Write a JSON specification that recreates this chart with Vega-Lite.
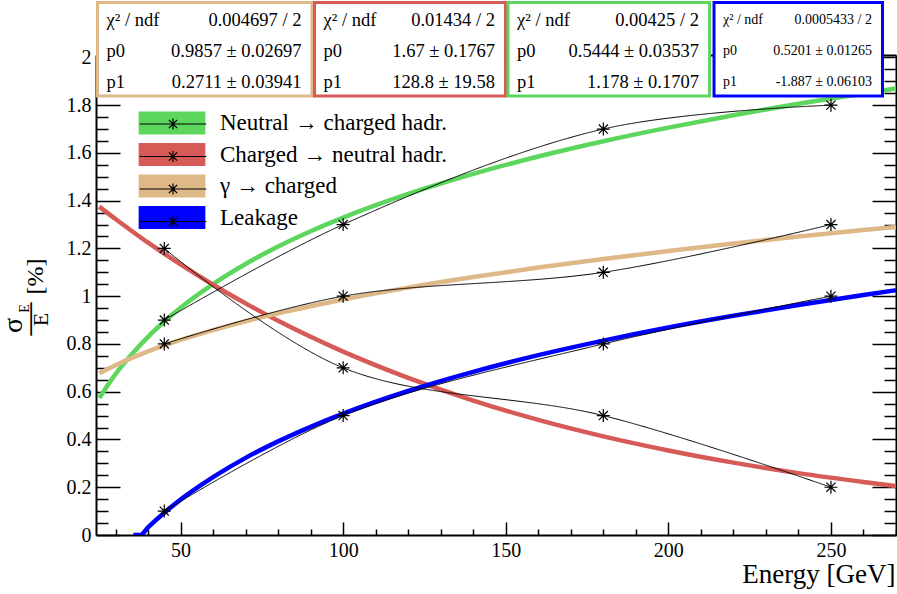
{
  "$schema": "https://vega.github.io/schema/vega-lite/v6.json",
  "width": 800,
  "height": 480,
  "autosize": "none",
  "padding": {"left": 96, "top": 55, "right": 1, "bottom": 59},
  "background": "white",
  "config": {
    "font": "Liberation Serif",
    "view": {"stroke": null},
    "axis": {"labelFont": "Liberation Serif", "titleFont": "Liberation Serif", "labelColor": "black", "titleColor": "black", "tickColor": "black", "domainColor": "black", "grid": false, "titleFontWeight": "normal", "labelFlush": false, "labelOverlap": false, "tickWidth": 1.5, "domainWidth": 2},
    "legend": {"labelFont": "Liberation Serif", "labelColor": "black"},
    "text": {"font": "Liberation Serif"}
  },
  "datasets": {
    "fits": [
      {"series": "Neutral → charged hadr.", "E": 25, "value": 0.574},
      {"series": "Neutral → charged hadr.", "E": 30, "value": 0.674},
      {"series": "Neutral → charged hadr.", "E": 35, "value": 0.757},
      {"series": "Neutral → charged hadr.", "E": 40, "value": 0.830},
      {"series": "Neutral → charged hadr.", "E": 45, "value": 0.894},
      {"series": "Neutral → charged hadr.", "E": 50, "value": 0.952},
      {"series": "Neutral → charged hadr.", "E": 60, "value": 1.051},
      {"series": "Neutral → charged hadr.", "E": 70, "value": 1.135},
      {"series": "Neutral → charged hadr.", "E": 80, "value": 1.208},
      {"series": "Neutral → charged hadr.", "E": 90, "value": 1.272},
      {"series": "Neutral → charged hadr.", "E": 100, "value": 1.329},
      {"series": "Neutral → charged hadr.", "E": 120, "value": 1.428},
      {"series": "Neutral → charged hadr.", "E": 140, "value": 1.512},
      {"series": "Neutral → charged hadr.", "E": 160, "value": 1.585},
      {"series": "Neutral → charged hadr.", "E": 180, "value": 1.649},
      {"series": "Neutral → charged hadr.", "E": 200, "value": 1.706},
      {"series": "Neutral → charged hadr.", "E": 220, "value": 1.758},
      {"series": "Neutral → charged hadr.", "E": 240, "value": 1.806},
      {"series": "Neutral → charged hadr.", "E": 260, "value": 1.849},
      {"series": "Neutral → charged hadr.", "E": 270, "value": 1.870},
      {"series": "Charged → neutral hadr.", "E": 25, "value": 1.375},
      {"series": "Charged → neutral hadr.", "E": 30, "value": 1.323},
      {"series": "Charged → neutral hadr.", "E": 35, "value": 1.273},
      {"series": "Charged → neutral hadr.", "E": 40, "value": 1.224},
      {"series": "Charged → neutral hadr.", "E": 45, "value": 1.178},
      {"series": "Charged → neutral hadr.", "E": 50, "value": 1.133},
      {"series": "Charged → neutral hadr.", "E": 60, "value": 1.048},
      {"series": "Charged → neutral hadr.", "E": 70, "value": 0.970},
      {"series": "Charged → neutral hadr.", "E": 80, "value": 0.897},
      {"series": "Charged → neutral hadr.", "E": 90, "value": 0.830},
      {"series": "Charged → neutral hadr.", "E": 100, "value": 0.768},
      {"series": "Charged → neutral hadr.", "E": 120, "value": 0.658},
      {"series": "Charged → neutral hadr.", "E": 140, "value": 0.563},
      {"series": "Charged → neutral hadr.", "E": 160, "value": 0.482},
      {"series": "Charged → neutral hadr.", "E": 180, "value": 0.413},
      {"series": "Charged → neutral hadr.", "E": 200, "value": 0.354},
      {"series": "Charged → neutral hadr.", "E": 220, "value": 0.303},
      {"series": "Charged → neutral hadr.", "E": 240, "value": 0.259},
      {"series": "Charged → neutral hadr.", "E": 260, "value": 0.222},
      {"series": "Charged → neutral hadr.", "E": 270, "value": 0.205},
      {"series": "γ → charged", "E": 25, "value": 0.677},
      {"series": "γ → charged", "E": 30, "value": 0.711},
      {"series": "γ → charged", "E": 35, "value": 0.742},
      {"series": "γ → charged", "E": 40, "value": 0.769},
      {"series": "γ → charged", "E": 45, "value": 0.794},
      {"series": "γ → charged", "E": 50, "value": 0.817},
      {"series": "γ → charged", "E": 60, "value": 0.858},
      {"series": "γ → charged", "E": 70, "value": 0.895},
      {"series": "γ → charged", "E": 80, "value": 0.928},
      {"series": "γ → charged", "E": 90, "value": 0.958},
      {"series": "γ → charged", "E": 100, "value": 0.986},
      {"series": "γ → charged", "E": 120, "value": 1.036},
      {"series": "γ → charged", "E": 140, "value": 1.080},
      {"series": "γ → charged", "E": 160, "value": 1.120},
      {"series": "γ → charged", "E": 180, "value": 1.156},
      {"series": "γ → charged", "E": 200, "value": 1.189},
      {"series": "γ → charged", "E": 220, "value": 1.221},
      {"series": "γ → charged", "E": 240, "value": 1.250},
      {"series": "γ → charged", "E": 260, "value": 1.277},
      {"series": "γ → charged", "E": 270, "value": 1.290},
      {"series": "Leakage", "E": 35.5, "value": 0},
      {"series": "Leakage", "E": 37.6, "value": 0},
      {"series": "Leakage", "E": 40, "value": 0.032},
      {"series": "Leakage", "E": 45, "value": 0.093},
      {"series": "Leakage", "E": 50, "value": 0.148},
      {"series": "Leakage", "E": 60, "value": 0.242},
      {"series": "Leakage", "E": 70, "value": 0.323},
      {"series": "Leakage", "E": 80, "value": 0.392},
      {"series": "Leakage", "E": 90, "value": 0.453},
      {"series": "Leakage", "E": 100, "value": 0.508},
      {"series": "Leakage", "E": 120, "value": 0.603},
      {"series": "Leakage", "E": 140, "value": 0.683},
      {"series": "Leakage", "E": 160, "value": 0.753},
      {"series": "Leakage", "E": 180, "value": 0.814},
      {"series": "Leakage", "E": 200, "value": 0.869},
      {"series": "Leakage", "E": 220, "value": 0.918},
      {"series": "Leakage", "E": 240, "value": 0.963},
      {"series": "Leakage", "E": 260, "value": 1.005},
      {"series": "Leakage", "E": 270, "value": 1.025}
    ],
    "points": [
      {"series": "Neutral → charged hadr.", "E": 45, "value": 0.9},
      {"series": "Neutral → charged hadr.", "E": 100, "value": 1.3},
      {"series": "Neutral → charged hadr.", "E": 180, "value": 1.7},
      {"series": "Neutral → charged hadr.", "E": 250, "value": 1.8},
      {"series": "Charged → neutral hadr.", "E": 45, "value": 1.2},
      {"series": "Charged → neutral hadr.", "E": 100, "value": 0.7},
      {"series": "Charged → neutral hadr.", "E": 180, "value": 0.5},
      {"series": "Charged → neutral hadr.", "E": 250, "value": 0.2},
      {"series": "γ → charged", "E": 45, "value": 0.8},
      {"series": "γ → charged", "E": 100, "value": 1.0},
      {"series": "γ → charged", "E": 180, "value": 1.1},
      {"series": "γ → charged", "E": 250, "value": 1.3},
      {"series": "Leakage", "E": 45, "value": 0.1},
      {"series": "Leakage", "E": 100, "value": 0.5},
      {"series": "Leakage", "E": 180, "value": 0.8},
      {"series": "Leakage", "E": 250, "value": 1.0}
    ],
    "boxes": [
      {"series": "γ → charged", "x0": 24.46, "x1": 90.42, "y0": 1.838, "y1": 2.23},
      {"series": "Charged → neutral hadr.", "x0": 91.19, "x1": 149.92, "y0": 1.838, "y1": 2.23},
      {"series": "Neutral → charged hadr.", "x0": 150.69, "x1": 212.65, "y0": 1.838, "y1": 2.23},
      {"series": "Leakage", "x0": 214.04, "x1": 265.85, "y0": 1.838, "y1": 2.23}
    ],
    "stats": [
      {"series": "γ → charged", "x0": 24.46, "x1": 90.42, "y": 2.1586, "label": "χ² / ndf", "text": "0.004697 / 2"},
      {"series": "γ → charged", "x0": 24.46, "x1": 90.42, "y": 2.0268, "label": "p0", "text": "0.9857 ± 0.02697"},
      {"series": "γ → charged", "x0": 24.46, "x1": 90.42, "y": 1.8969, "label": "p1", "text": "0.2711 ± 0.03941"},
      {"series": "Charged → neutral hadr.", "x0": 91.19, "x1": 149.92, "y": 2.1586, "label": "χ² / ndf", "text": "0.01434 / 2"},
      {"series": "Charged → neutral hadr.", "x0": 91.19, "x1": 149.92, "y": 2.0268, "label": "p0", "text": "1.67 ± 0.1767"},
      {"series": "Charged → neutral hadr.", "x0": 91.19, "x1": 149.92, "y": 1.8969, "label": "p1", "text": "128.8 ± 19.58"},
      {"series": "Neutral → charged hadr.", "x0": 150.69, "x1": 212.65, "y": 2.1586, "label": "χ² / ndf", "text": "0.00425 / 2"},
      {"series": "Neutral → charged hadr.", "x0": 150.69, "x1": 212.65, "y": 2.0268, "label": "p0", "text": "0.5444 ± 0.03537"},
      {"series": "Neutral → charged hadr.", "x0": 150.69, "x1": 212.65, "y": 1.8969, "label": "p1", "text": "1.178 ± 0.1707"},
      {"series": "Leakage", "x0": 214.04, "x1": 265.85, "y": 2.1586, "label": "χ² / ndf", "text": "0.0005433 / 2"},
      {"series": "Leakage", "x0": 214.04, "x1": 265.85, "y": 2.0268, "label": "p0", "text": "0.5201 ± 0.01265"},
      {"series": "Leakage", "x0": 214.04, "x1": 265.85, "y": 1.8969, "label": "p1", "text": "-1.887 ± 0.06103"}
    ]
  },
  "layer": [
    {
      "data": {"name": "fits"},
      "mark": {"type": "line", "strokeWidth": 4.5, "interpolate": "monotone", "clip": true},
      "encoding": {
        "x": {"field": "E", "type": "quantitative", "scale": {"domain": [24, 270], "nice": false, "zero": false},
          "axis": {"orient": "bottom", "values": [50, 100, 150, 200, 250], "tickSize": -13, "labelFontSize": 20, "labelPadding": 18, "labelBaseline": "top",
            "title": "Energy [GeV]", "titleFontSize": 27, "titleX": 799, "titleY": 47, "titleAlign": "right", "titleBaseline": "alphabetic"}},
        "y": {"field": "value", "type": "quantitative", "scale": {"domain": [0, 2.01], "nice": false, "zero": false},
          "axis": {"orient": "left", "values": [0, 0.2, 0.4, 0.6, 0.8, 1, 1.2, 1.4, 1.6, 1.8, 2], "format": ".1~f", "tickSize": -24, "labelFontSize": 20, "labelPadding": 29, "labelBaseline": "middle",
            "title": "σ", "titleFontSize": 28, "titleAngle": 270, "titleX": -75, "titleY": 270, "titleAlign": "center", "titleBaseline": "alphabetic"}},
        "color": {"field": "series", "type": "nominal",
          "scale": {"domain": ["Neutral → charged hadr.", "Charged → neutral hadr.", "γ → charged", "Leakage"], "range": ["#5cd65c", "#d65a55", "#deb887", "#0000ff"]},
          "legend": null}
      }
    },
    {
      "data": {"name": "boxes"},
      "mark": {"type": "rect", "fill": "white", "strokeWidth": 3},
      "encoding": {
        "x": {"field": "x0", "type": "quantitative", "scale": {"domain": [24, 270], "nice": false, "zero": false}, "axis": null},
        "x2": {"field": "x1"},
        "y": {"field": "y0", "type": "quantitative", "scale": {"domain": [0, 2.01], "nice": false, "zero": false},
          "axis": {"orient": "right", "values": [0.05, 0.1, 0.15, 0.25, 0.3, 0.35, 0.45, 0.5, 0.55, 0.65, 0.7, 0.75, 0.85, 0.9, 0.95, 1.05, 1.1, 1.15, 1.25, 1.3, 1.35, 1.45, 1.5, 1.55, 1.65, 1.7, 1.75, 1.85, 1.9, 1.95], "tickSize": -12, "labels": false, "domain": false,
            "title": "E", "titleFontSize": 22, "titleAngle": 270, "titleX": -849, "titleY": 264, "titleAlign": "center", "titleBaseline": "alphabetic"}},
        "y2": {"field": "y1"},
        "stroke": {"field": "series", "type": "nominal",
          "scale": {"domain": ["Charged → neutral hadr.", "Neutral → charged hadr.", "γ → charged", "Leakage"], "range": ["#d65a55", "#5cd65c", "#deb887", "#0000ff"]},
          "legend": null}
      }
    },
    {
      "data": {"name": "stats"},
      "mark": {"type": "text", "align": "left", "baseline": "middle", "dx": 9, "color": "black"},
      "encoding": {
        "x": {"field": "x0", "type": "quantitative", "scale": {"domain": [24, 270], "nice": false, "zero": false}, "axis": null},
        "y": {"field": "y", "type": "quantitative", "scale": {"domain": [0, 2.01], "nice": false, "zero": false},
          "axis": {"orient": "left", "ticks": false, "labels": false, "domain": false,
            "title": "[%]", "titleFontSize": 24, "titleAngle": 270, "titleX": -53.3, "titleY": 221, "titleAlign": "center", "titleBaseline": "alphabetic"}},
        "text": {"field": "label"},
        "size": {"field": "series", "type": "nominal", "scale": {"type": "ordinal", "domain": ["Neutral → charged hadr.", "Charged → neutral hadr.", "γ → charged", "Leakage"], "range": [18.5, 18.5, 18.5, 14]}, "legend": null}
      }
    },
    {
      "data": {"name": "stats"},
      "mark": {"type": "text", "align": "right", "baseline": "middle", "dx": -10.5, "color": "black"},
      "encoding": {
        "x": {"field": "x1", "type": "quantitative", "scale": {"domain": [24, 270], "nice": false, "zero": false}, "axis": null},
        "y": {"field": "y", "type": "quantitative", "scale": {"domain": [0, 2.01], "nice": false, "zero": false}, "axis": null},
        "text": {"field": "text"},
        "size": {"field": "series", "type": "nominal", "scale": {"type": "ordinal", "domain": ["Neutral → charged hadr.", "Charged → neutral hadr.", "γ → charged", "Leakage"], "range": [18.5, 18.5, 18.5, 14]}, "legend": null}
      }
    },
    {
      "data": {"name": "points"},
      "mark": {"type": "point", "shape": "M-1,0H1M0,-1V1M-0.7,-0.7L0.7,0.7M-0.7,0.7L0.7,-0.7", "filled": false, "stroke": "black", "strokeWidth": 1.2, "size": 169, "opacity": 1},
      "encoding": {
        "x": {"field": "E", "type": "quantitative", "scale": {"domain": [24, 270], "nice": false, "zero": false},
          "axis": {"orient": "top", "ticks": false, "labels": false, "domain": true, "title": null}},
        "y": {"field": "value", "type": "quantitative", "scale": {"domain": [0, 2.01], "nice": false, "zero": false},
          "axis": {"orient": "right", "values": [0, 0.2, 0.4, 0.6, 0.8, 1, 1.2, 1.4, 1.6, 1.8, 2], "tickSize": -24, "labels": false, "domain": true,
            "title": "—", "titleFontSize": 33, "titleAngle": 270, "titleX": -857.6, "titleY": 263.5, "titleAlign": "center", "titleBaseline": "alphabetic"}},
        "fill": {"field": "series", "type": "nominal",
          "scale": {"domain": ["γ → charged", "Leakage", "Neutral → charged hadr.", "Charged → neutral hadr."], "range": ["#deb887", "#0000ff", "#5cd65c", "#d65a55"]},
          "legend": {"values": ["Neutral → charged hadr.", "Charged → neutral hadr.", "γ → charged", "Leakage"], "orient": "none", "legendX": 64.5, "legendY": 56.5, "title": null, "padding": 0, "labelFontSize": 23, "labelOffset": 36.5, "rowPadding": 7.5, "labelLimit": 500, "labelBaseline": "middle",
            "symbolType": "M-2.9,-1H2.9V1H-2.9Z", "symbolSize": 529, "symbolStrokeWidth": 0, "symbolOpacity": 1, "symbolFillOpacity": 1}}
      }
    },
    {
      "data": {"name": "points"},
      "mark": {"type": "line", "strokeWidth": 1, "color": "black", "interpolate": "catmull-rom"},
      "encoding": {
        "x": {"field": "E", "type": "quantitative", "scale": {"domain": [24, 270], "nice": false, "zero": false},
          "axis": {"orient": "bottom", "values": [30, 40, 60, 70, 80, 90, 110, 120, 130, 140, 160, 170, 180, 190, 210, 220, 230, 240, 260, 270], "tickSize": -6, "labels": false, "domain": false, "title": null}},
        "y": {"field": "value", "type": "quantitative", "scale": {"domain": [0, 2.01], "nice": false, "zero": false},
          "axis": {"orient": "left", "values": [0.05, 0.1, 0.15, 0.25, 0.3, 0.35, 0.45, 0.5, 0.55, 0.65, 0.7, 0.75, 0.85, 0.9, 0.95, 1.05, 1.1, 1.15, 1.25, 1.3, 1.35, 1.45, 1.5, 1.55, 1.65, 1.7, 1.75, 1.85, 1.9, 1.95], "tickSize": -12, "labels": false, "domain": false,
            "title": "E", "titleFontSize": 14, "titleAngle": 270, "titleX": -68, "titleY": 253, "titleAlign": "center", "titleBaseline": "alphabetic"}},
        "strokeDash": {"field": "series", "type": "nominal",
          "scale": {"domain": ["Leakage", "γ → charged", "Charged → neutral hadr.", "Neutral → charged hadr."], "range": [[1, 0], [1, 0], [1, 0], [1, 0]]},
          "legend": {"values": ["Neutral → charged hadr.", "Charged → neutral hadr.", "γ → charged", "Leakage"], "orient": "none", "legendX": 64.5, "legendY": 56.5, "title": null, "padding": 0, "labelFontSize": 23, "labelOffset": 36.5, "rowPadding": 7.5, "labelLimit": 500, "labelBaseline": "middle", "labelOpacity": 0,
            "symbolType": "M-2.9,0H2.9M0,-0.48V0.48M-0.36,-0.36L0.36,0.36M-0.36,0.36L0.36,-0.36", "symbolSize": 529, "symbolStrokeWidth": 1.2, "symbolStrokeColor": "black", "symbolOpacity": 1}}
      }
    }
  ],
  "resolve": {"axis": {"x": "independent", "y": "independent"}}
}
